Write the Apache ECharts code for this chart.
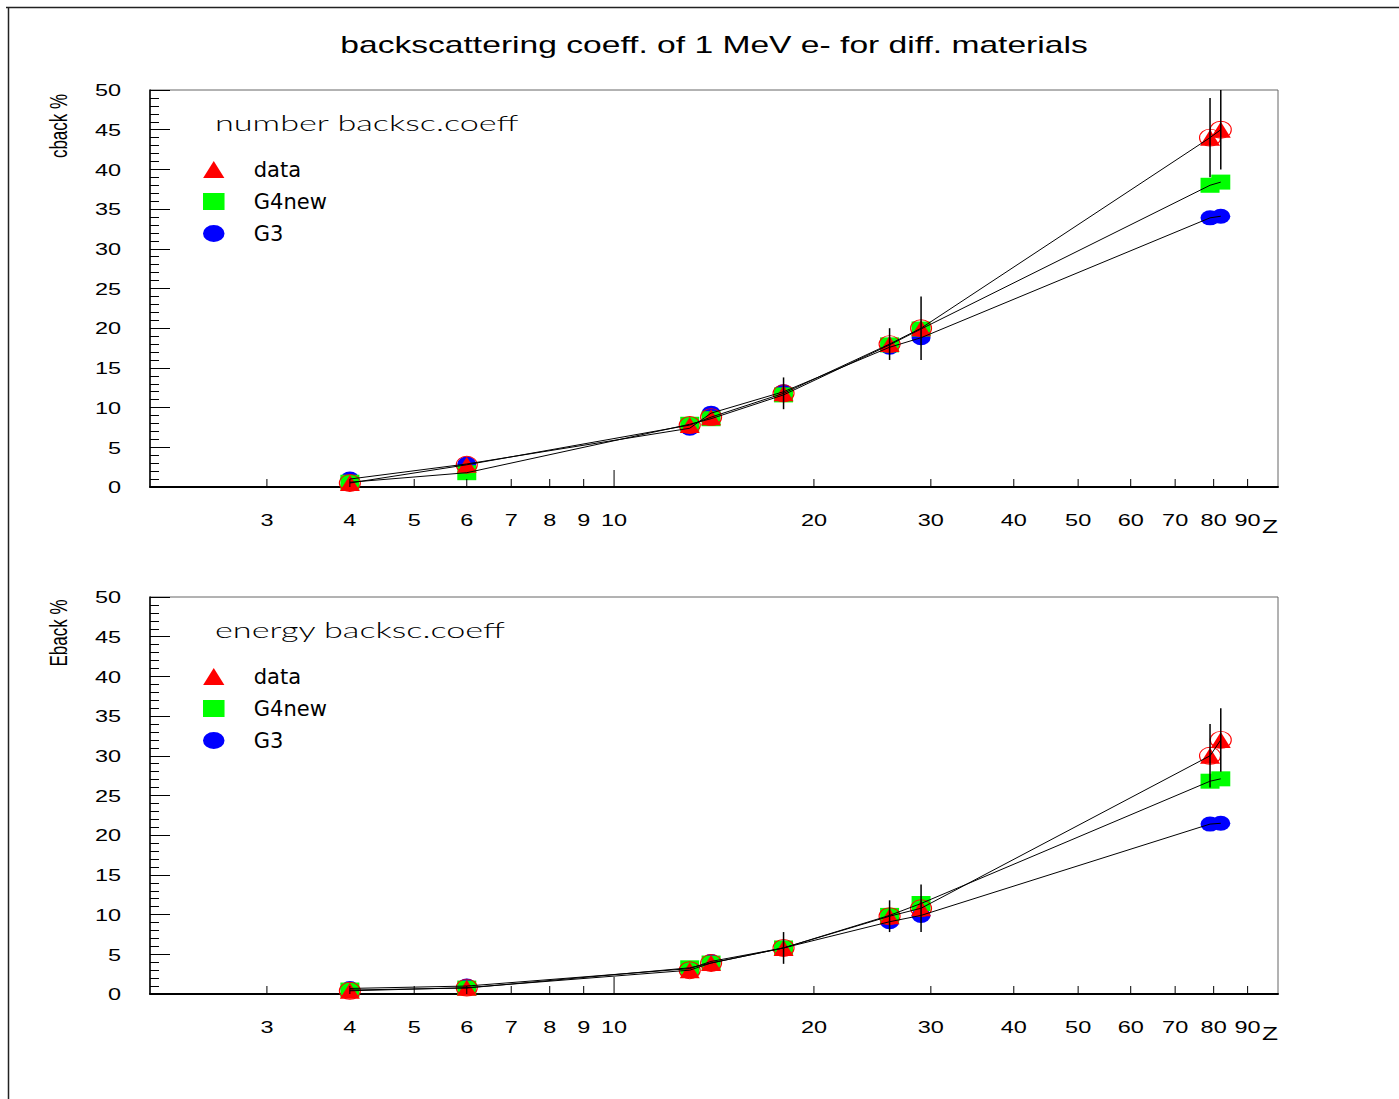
<!DOCTYPE html>
<html><head><meta charset="utf-8">
<script src="https://cdn.jsdelivr.net/npm/echarts@6/dist/echarts.min.js"></script>
<style>html,body{margin:0;padding:0;background:#fff}#c{width:1399px;height:1099px}</style>
</head><body><div id="c"></div>
<script>
// ---- data ----
const Z = [4, 6, 13, 14, 18, 26, 29, 79, 82];
const numData    = [0.5, 2.8, 7.8, 8.8, 11.8, 18.0, 20.0, 44.0, 45.0];
const numDataErr = [0, 0, 0, 0, 2, 2, 4, 5, 5];
const numG4new   = [0.6, 1.8, 7.9, 8.6, 11.6, 17.9, 19.9, 38.0, 38.4];
const numG3      = [1.0, 2.9, 7.4, 9.3, 12.0, 17.6, 18.8, 33.9, 34.1];
const enData     = [0.4, 0.8, 3.0, 3.9, 5.8, 9.8, 10.8, 30.0, 32.0];
const enDataErr  = [0, 0, 0, 0, 2, 2, 3, 4, 4];
const enG4new    = [0.5, 0.75, 3.3, 3.9, 5.8, 9.9, 11.4, 26.8, 27.1];
const enG3       = [0.7, 1.0, 3.2, 4.1, 5.8, 9.1, 9.9, 21.4, 21.5];
const xTickValues = [3, 4, 5, 6, 7, 8, 9, 10, 20, 30, 40, 50, 60, 70, 80, 90];
const xTickLabels = ['3', '4', '5', '6', '7', '8', '9', '10', '20', '30', '40', '50', '60', '70', '80', '90'];
const yTickValues = [0, 5, 10, 15, 20, 25, 30, 35, 40, 45, 50];
const yTickLabels = ['0', '5', '10', '15', '20', '25', '30', '35', '40', '45', '50'];
const titleText = 'backscattering coeff. of 1 MeV e- for diff. materials';

// ---- styles / layout ----
const FONT = 'Liberation Sans, Arial, Helvetica, sans-serif';
const SX = 1.38;
const TRI = 'path://M10,0 L20,16 L0,16 Z';
const RECT = 'path://M0,0 L19,0 L19,15 L0,15 Z';
const ELL = 'path://M0,7.5 A9.5,7.5 0 1,1 19,7.5 A9.5,7.5 0 1,1 0,7.5 Z';
const RING = 'path://M0,8.5 A10.5,8.5 0 1,1 21,8.5 A10.5,8.5 0 1,1 0,8.5 Z';
const GL = 150, GW = 1128, GH = 397;
const panels = [
  {top: 90, yname: 'cback %', sub: 'number backsc.coeff', d: numData, e: numDataErr, g4: numG4new, g3: numG3},
  {top: 597, yname: 'Eback %', sub: 'energy backsc.coeff', d: enData, e: enDataErr, g4: enG4new, g3: enG3}
];

const grids = [], xAxes = [], yAxes = [], series = [], legends = [], graphics = [];
panels.forEach((p, i) => {
  grids.push({left: GL, width: GW, top: p.top, height: GH, show: true, borderColor: '#666', borderWidth: 1, backgroundColor: 'transparent', containLabel: false, outerBoundsMode: 'none'});
  xAxes.push({type: 'log', logBase: 10, gridIndex: i, min: 2, max: 100,
    axisLine: {show: true, lineStyle: {color: '#000', width: 2}},
    axisTick: {show: false}, axisLabel: {show: false}, splitLine: {show: false}, minorTick: {show: false}, minorSplitLine: {show: false}});
  yAxes.push({type: 'value', gridIndex: i, min: 0, max: 50, interval: 5,
    axisLine: {show: true, onZero: false, lineStyle: {color: '#000', width: 1.5}},
    axisTick: {show: true, inside: true, length: 20, lineStyle: {color: '#000', width: 1}},
    minorTick: {show: true, splitNumber: 5, length: 9, lineStyle: {color: '#000', width: 1}},
    axisLabel: {show: false}, splitLine: {show: false}});
  const pts = arr => Z.map((z, k) => [z, arr[k]]);
  const base = {xAxisIndex: i, yAxisIndex: i, silent: true, animation: false};
  series.push(Object.assign({type: 'scatter', name: 'G3', data: pts(p.g3), symbol: ELL, symbolSize: [19, 15], itemStyle: {color: '#0000ff', opacity: 1}, z: 2}, base));
  series.push(Object.assign({type: 'scatter', name: 'G4new', data: pts(p.g4), symbol: RECT, symbolSize: [19, 15], itemStyle: {color: '#00ff00', opacity: 1}, z: 3}, base));
  series.push(Object.assign({type: 'scatter', name: 'ring' + i, data: pts(p.d), symbol: RING, symbolSize: [21, 17], itemStyle: {color: 'rgba(0,0,0,0)', borderColor: '#ff0000', borderWidth: 1, opacity: 1}, z: 4}, base));
  series.push(Object.assign({type: 'scatter', name: 'data', data: pts(p.d), symbol: TRI, symbolSize: [20, 16], itemStyle: {color: '#ff0000', opacity: 1}, z: 5}, base));
  [p.d, p.g4, p.g3].forEach((arr, k) => {
    series.push(Object.assign({type: 'line', name: 'line' + i + '_' + k, data: pts(arr), showSymbol: false, symbol: 'none',
      lineStyle: {color: '#000', width: 1}, z: 6}, base));
  });
  const errData = [];
  Z.forEach((z, k) => { if (p.e[k] > 0) errData.push([z, p.d[k] - p.e[k], p.d[k] + p.e[k]]); });
  series.push(Object.assign({type: 'custom', name: 'err' + i, data: errData, clip: true, z: 7,
    renderItem: (params, api) => {
      const a = api.coord([api.value(0), api.value(1)]);
      const b = api.coord([api.value(0), api.value(2)]);
      return {type: 'line', shape: {x1: a[0], y1: a[1], x2: b[0], y2: b[1]}, style: {stroke: '#000', lineWidth: 1.5}};
    }}, base));
  // x ticks + labels through the log axis scale
  series.push(Object.assign({type: 'custom', name: 'xt' + i, data: xTickValues.map(v => [v, 0]), clip: false, z: 8,
    renderItem: (params, api) => {
      const v = api.value(0);
      const c = api.coord([v, 0]);
      const len = v === 10 ? 17 : 8;
      return {type: 'group', children: [
        {type: 'line', shape: {x1: c[0], y1: c[1], x2: c[0], y2: c[1] - len}, style: {stroke: '#000', lineWidth: 1}},
        {type: 'text', x: c[0], y: c[1] + 33, scaleX: SX,
          style: {text: xTickLabels[params.dataIndex], fontFamily: FONT, fontSize: 17, fill: '#000', align: 'center', verticalAlign: 'middle'}}
      ]};
    }}, base));
  // y labels through the value axis scale
  series.push(Object.assign({type: 'custom', name: 'yt' + i, data: yTickValues.map(v => [2, v]), clip: false, z: 8,
    renderItem: (params, api) => {
      const c = api.coord([api.value(0), api.value(1)]);
      return {type: 'text', x: c[0] - 29, y: c[1], scaleX: SX,
        style: {text: yTickLabels[params.dataIndex], fontFamily: FONT, fontSize: 17, fill: '#000', align: 'right', verticalAlign: 'middle'}};
    }}, base));
  legends.push({show: true, orient: 'vertical', left: 203, top: p.top + 69, padding: 0, itemGap: 11,
    itemWidth: 70, itemHeight: 17, selectedMode: false, symbolKeepAspect: true,
    data: [{name: 'data', icon: TRI}, {name: 'G4new', icon: RECT}, {name: 'G3', icon: ELL}],
    textStyle: {fontFamily: 'DejaVu Sans', fontSize: 21, color: '#000'}});
  graphics.push({type: 'text', left: 215, top: p.top + 22, scaleX: 1.63,
    style: {text: p.sub, fontFamily: 'Lato', fontWeight: 300, fontSize: 21, fill: '#000'}});
  graphics.push({type: 'text', x: 58, y: p.top + 36, rotation: Math.PI / 2, scaleY: 1.4,
    style: {text: p.yname, fontFamily: FONT, fontSize: 17, fill: '#000', align: 'center', verticalAlign: 'middle'}});
  graphics.push({type: 'text', x: GL + GW, y: p.top + GH + 39, scaleX: SX,
    style: {text: 'Z', fontFamily: FONT, fontSize: 19, fill: '#000', align: 'right', verticalAlign: 'middle'}});
});
graphics.push({type: 'text', x: 714, y: 45, scaleX: 1.4,
  style: {text: titleText, fontFamily: FONT, fontSize: 24, fill: '#000', align: 'center', verticalAlign: 'middle'}});
graphics.push({type: 'line', shape: {x1: 6, y1: 7.5, x2: 1399, y2: 7.5}, style: {stroke: '#222', lineWidth: 1.5}});
graphics.push({type: 'line', shape: {x1: 8.5, y1: 7, x2: 8.5, y2: 1099}, style: {stroke: '#222', lineWidth: 1.5}});

const chart = echarts.init(document.getElementById('c'), null, {renderer: 'svg'});
chart.setOption({
  animation: false,
  backgroundColor: '#fff',
  textStyle: {fontFamily: FONT},
  grid: grids, xAxis: xAxes, yAxis: yAxes, series: series, legend: legends,
  graphic: {elements: graphics}
});
</script></body></html>
